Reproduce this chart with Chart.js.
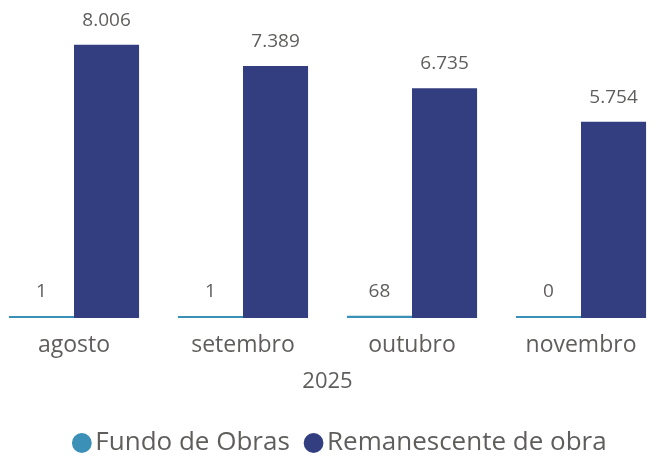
<!DOCTYPE html>
<html>
<head>
<meta charset="utf-8">
<script src="https://cdn.jsdelivr.net/npm/chart.js@4.4.0/dist/chart.umd.min.js"></script>
<style>
  html, body { margin: 0; padding: 0; background: #fff; overflow: hidden; }
  #wrap { width: 666px; height: 466px; }
</style>
</head>
<body>
<div id="wrap"><canvas id="chart"></canvas></div>
<script>
const months = ['agosto', 'setembro', 'outubro', 'novembro'];
const fundoObras = [1, 1, 68, 0];
const remanescente = [8006, 7389, 6735, 5754];

const fontFamily = "'Open Sans', 'Noto Sans', sans-serif";
const textColor = '#605e5c';

// draw value labels above each bar
const valueLabels = {
    id: 'valueLabels',
    afterDatasetsDraw(chart) {
        const ctx = chart.ctx;
        ctx.save();
        ctx.font = '19px ' + fontFamily;
        ctx.fillStyle = textColor;
        ctx.textAlign = 'center';
        ctx.textBaseline = 'bottom';
        chart.data.datasets.forEach((ds, i) => {
            chart.getDatasetMeta(i).data.forEach((bar, j) => {
                const txt = ds.data[j].toLocaleString('pt-BR');
                ctx.fillText(txt, bar.x, bar.y - 15);
            });
        });
        ctx.restore();
    }
};

// the original plot runs a bit past the left edge, stretch the x scale
const stretchX = {
    id: 'stretchX',
    afterLayout(chart) {
        const x = chart.scales.x;
        x.left = -10.5;
        x.right = 665.5;
        x.width = x.right - x.left;
        x.configure();
    }
};

new Chart(document.getElementById('chart'), {
    type: 'bar',
    data: {
        labels: months,
        datasets: [
            {
                label: 'Fundo de Obras',
                data: fundoObras,
                backgroundColor: '#3a90b6',
                minBarLength: 2,
                barPercentage: 1,
                categoryPercentage: 0.77
            },
            {
                label: 'Remanescente de obra',
                data: remanescente,
                backgroundColor: '#333e80',
                barPercentage: 1,
                categoryPercentage: 0.77
            }
        ]
    },
    options: {
        responsive: true,
        maintainAspectRatio: false,
        animation: false,
        layout: { padding: { left: 22, right: 0, top: 0, bottom: 0 } },
        plugins: {
            legend: {
                position: 'bottom',
                labels: {
                    usePointStyle: true,
                    pointStyle: 'circle',
                    boxWidth: 1,
                    boxHeight: 14,
                    padding: 3,
                    color: textColor,
                    font: { size: 26, family: fontFamily, lineHeight: 1.1 },
                    generateLabels(chart) {
                        const items = Chart.defaults.plugins.legend.labels.generateLabels(chart);
                        items.forEach((it, i) => {
                            if (i < items.length - 1) it.text += '   ';
                        });
                        return items;
                    }
                }
            },
            tooltip: { enabled: false }
        },
        scales: {
            x: {
                grid: { display: false },
                border: { display: false },
                ticks: { color: textColor, font: { size: 23, family: fontFamily }, padding: 6 },
                title: {
                    display: true,
                    text: '2025',
                    color: textColor,
                    font: { size: 22, family: fontFamily },
                    padding: { top: 3, bottom: 32 }
                }
            },
            y: {
                display: false,
                min: 0,
                max: 9320
            }
        }
    },
    plugins: [stretchX, valueLabels]
});
</script>
</body>
</html>
